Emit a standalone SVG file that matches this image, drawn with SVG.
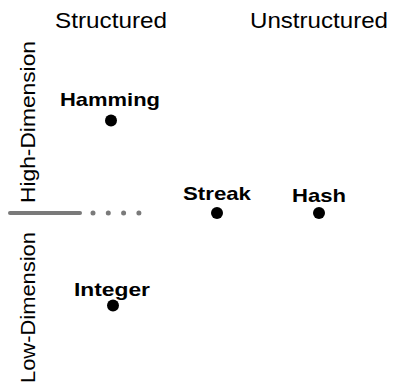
<svg xmlns="http://www.w3.org/2000/svg" width="394" height="386" viewBox="0 0 394 386">
<style>
.hdr{font-family:"Liberation Sans",Arial,sans-serif;font-size:22px;fill:#000}
.lbl{font-family:"Liberation Sans",Arial,sans-serif;font-size:19px;font-weight:bold;fill:#000}
.dot{fill:#000}
</style>
<rect width="394" height="386" fill="#fff"/>
<g id="headers">
<text class="hdr" x="55" y="28" textLength="112" lengthAdjust="spacingAndGlyphs">Structured</text>
<text class="hdr" x="250" y="28" textLength="138" lengthAdjust="spacingAndGlyphs">Unstructured</text>
<text class="hdr" transform="translate(35,203) rotate(-90)" x="0" y="0" textLength="162" lengthAdjust="spacingAndGlyphs" style="font-size:20px">High-Dimension</text>
<text class="hdr" transform="translate(35,383) rotate(-90)" x="0" y="0" textLength="151" lengthAdjust="spacingAndGlyphs" style="font-size:20px">Low-Dimension</text>
</g>
<g id="connectors">
<line x1="10" y1="213" x2="80" y2="213" stroke="#7a7a7a" stroke-width="4" stroke-linecap="round"/>
<line x1="93" y1="213" x2="140" y2="213" stroke="#7a7a7a" stroke-width="5" stroke-linecap="round" stroke-dasharray="0 15.3"/>
</g>
<g id="hamming">
<text class="lbl" x="60" y="106" textLength="100" lengthAdjust="spacingAndGlyphs">Hamming</text>
<circle class="dot" cx="111" cy="120.5" r="6"/>
</g>
<g id="streak">
<text class="lbl" x="183" y="200" textLength="68" lengthAdjust="spacingAndGlyphs">Streak</text>
<circle class="dot" cx="217" cy="213" r="6"/>
</g>
<g id="hash">
<text class="lbl" x="292" y="202" textLength="54" lengthAdjust="spacingAndGlyphs">Hash</text>
<circle class="dot" cx="319" cy="213" r="6"/>
</g>
<g id="integer">
<text class="lbl" x="74" y="296" textLength="76" lengthAdjust="spacingAndGlyphs">Integer</text>
<circle class="dot" cx="113" cy="305.5" r="6"/>
</g>
</svg>
